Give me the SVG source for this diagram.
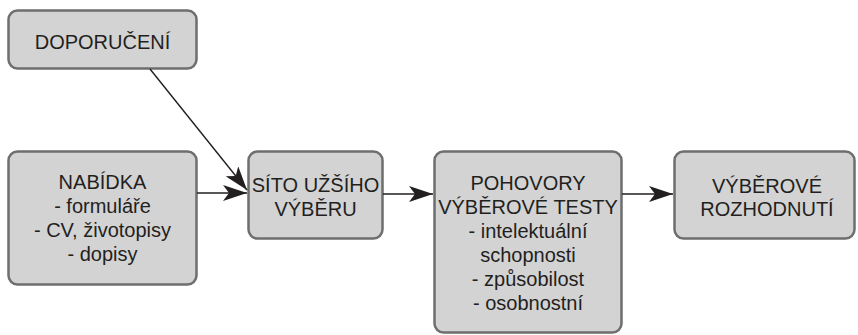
<svg xmlns="http://www.w3.org/2000/svg" width="858" height="335" viewBox="0 0 858 335">
<defs>
<style>
.box{fill:#d3d3d4;stroke:#6e6e6e;stroke-width:2.5}
.t{font-family:"Liberation Sans",Arial,sans-serif;font-size:20px;fill:#231f20;text-anchor:middle}
.c{stroke:#231f20;stroke-width:1.4;fill:none}
</style>
<marker id="ah" markerUnits="userSpaceOnUse" viewBox="0 0 24 16" refX="24" refY="8" markerWidth="24" markerHeight="16" orient="auto">
<path d="M0,0 L24,8 L0,16 L6,8 Z" fill="#231f20"/>
</marker>
</defs>
<rect width="858" height="335" fill="#ffffff"/>
<g id="doporuceni">
<rect class="box" x="8.5" y="10.5" width="188" height="58" rx="9"/>
<text class="t" x="102.5" y="49">DOPORUČENÍ</text>
</g>
<g id="nabidka">
<rect class="box" x="8.5" y="151.5" width="188" height="133" rx="9"/>
<text class="t" x="102.5" y="189">NABÍDKA</text>
<text class="t" x="102.5" y="213">- formuláře</text>
<text class="t" x="102.5" y="237">- CV,  životopisy</text>
<text class="t" x="102.5" y="261">- dopisy</text>
</g>
<g id="sito">
<rect class="box" x="248.5" y="151.5" width="134" height="87" rx="9"/>
<text class="t" x="315.5" y="192">SÍTO UŽŠÍHO</text>
<text class="t" x="315.5" y="216">VÝBĚRU</text>
</g>
<g id="pohovory">
<rect class="box" x="434.5" y="151.5" width="187" height="181" rx="9"/>
<text class="t" x="528" y="190">POHOVORY</text>
<text class="t" x="528" y="214">VÝBĚROVÉ TESTY</text>
<text class="t" x="528" y="238">- intelektuální</text>
<text class="t" x="528" y="262">schopnosti</text>
<text class="t" x="528" y="286">- způsobilost</text>
<text class="t" x="528" y="310">- osobnostní</text>
</g>
<g id="rozhodnuti">
<rect class="box" x="674.5" y="151.5" width="180" height="87" rx="9"/>
<text class="t" x="767" y="193">VÝBĚROVÉ</text>
<text class="t" x="767" y="216">ROZHODNUTÍ</text>
</g>
<g id="connectors">
<line class="c" x1="150" y1="69" x2="247" y2="190" marker-end="url(#ah)"/>
<line class="c" x1="197" y1="193" x2="247" y2="193" marker-end="url(#ah)"/>
<line class="c" x1="383" y1="194" x2="433" y2="194" marker-end="url(#ah)"/>
<line class="c" x1="622" y1="194" x2="673" y2="194" marker-end="url(#ah)"/>
</g>
</svg>
